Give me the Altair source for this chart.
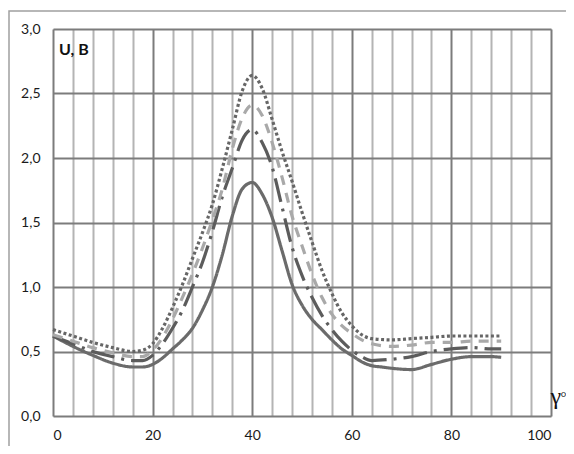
import altair as alt
import pandas as pd

# ---- data ----
x_solid = [0, 4, 8, 12, 16, 18, 20, 22, 24, 26, 28, 30, 32, 34, 36, 38, 40, 42, 44, 46, 48, 50, 52, 54, 56, 58, 60, 62, 64, 66, 68, 72, 76, 80, 84, 88, 90]
y_solid = [0.62, 0.54, 0.47, 0.41, 0.38, 0.38, 0.40, 0.45, 0.52, 0.59, 0.68, 0.82, 1.00, 1.25, 1.55, 1.76, 1.81, 1.72, 1.54, 1.28, 1.02, 0.86, 0.75, 0.67, 0.59, 0.52, 0.47, 0.42, 0.39, 0.38, 0.37, 0.36, 0.40, 0.44, 0.46, 0.46, 0.455]

x_dashdot = [0, 4, 8, 12, 16, 18, 20, 22, 24, 26, 28, 30, 32, 34, 36, 38, 40, 42, 44, 46, 48, 50, 52, 54, 56, 58, 60, 62, 64, 68, 72, 76, 80, 84, 88, 90]
y_dashdot = [0.62, 0.56, 0.50, 0.46, 0.43, 0.43, 0.47, 0.56, 0.68, 0.82, 1.00, 1.19, 1.43, 1.70, 1.92, 2.14, 2.22, 2.12, 1.93, 1.62, 1.31, 1.09, 0.92, 0.78, 0.67, 0.58, 0.51, 0.46, 0.43, 0.44, 0.46, 0.50, 0.52, 0.53, 0.52, 0.52]

x_dashed = [0, 4, 8, 12, 16, 18, 20, 22, 24, 26, 28, 30, 32, 34, 36, 38, 40, 42, 44, 46, 48, 50, 52, 54, 56, 58, 60, 62, 64, 68, 72, 76, 80, 84, 88, 90]
y_dashed = [0.63, 0.58, 0.53, 0.49, 0.46, 0.46, 0.51, 0.61, 0.75, 0.92, 1.10, 1.30, 1.52, 1.76, 2.07, 2.31, 2.41, 2.33, 2.12, 1.85, 1.55, 1.32, 1.10, 0.92, 0.79, 0.70, 0.64, 0.59, 0.56, 0.54, 0.55, 0.57, 0.57, 0.58, 0.58, 0.58]

x_dotted = [0, 4, 8, 12, 16, 18, 20, 22, 24, 26, 28, 30, 32, 34, 36, 38, 40, 42, 44, 46, 48, 50, 52, 54, 56, 58, 60, 62, 64, 68, 72, 76, 80, 84, 88, 90]
y_dotted = [0.67, 0.62, 0.57, 0.53, 0.50, 0.51, 0.56, 0.68, 0.84, 1.02, 1.22, 1.42, 1.64, 1.92, 2.22, 2.52, 2.64, 2.54, 2.30, 2.05, 1.82, 1.58, 1.35, 1.13, 0.95, 0.80, 0.70, 0.63, 0.60, 0.59, 0.60, 0.61, 0.62, 0.62, 0.62, 0.62]

series_names = ["solid", "dashdot", "dashed", "dotted"]
series_colors = ["#6b6b6b", "#5c5c5c", "#a9a9a9", "#666666"]
series_dash = [[1, 0], [24, 7, 3, 7], [10, 8], [3, 2.5]]

x_grid = list(range(0, 101, 4))
y_ticks = [0, 0.5, 1.0, 1.5, 2.0, 2.5, 3.0]

frames = []
for name, xs, ys in [("solid", x_solid, y_solid), ("dashdot", x_dashdot, y_dashdot),
                     ("dashed", x_dashed, y_dashed), ("dotted", x_dotted, y_dotted)]:
    frames.append(pd.DataFrame({"x": xs, "y": ys, "s": name}))
df = pd.concat(frames, ignore_index=True)

font = "Lato"

xscale = alt.Scale(domain=[0, 100], nice=False, zero=False)
yscale = alt.Scale(domain=[0, 3], nice=False)

lines = alt.Chart(df).mark_line(strokeWidth=3.2, interpolate="monotone", strokeCap="butt").encode(
    x=alt.X("x:Q", scale=xscale, title=None,
            axis=alt.Axis(values=x_grid, domain=False, ticks=False, labelPadding=12,
                          labelExpr="datum.value % 20 === 0 ? datum.label : ''",
                          labelFont=font, labelFontSize=14, labelColor="#1a1a1a",
                          gridColor={"condition": {"test": "datum.value % 20 === 0", "value": "#7c7c7c"}, "value": "#b4b4b4"},
                          gridWidth=2)),
    y=alt.Y("y:Q", scale=yscale, title=None,
            axis=alt.Axis(values=y_ticks, domain=False, ticks=False, labelPadding=13,
                          labelExpr="replace(format(datum.value, '.1f'), '.', ',')",
                          labelFont=font, labelFontSize=14, labelColor="#1a1a1a",
                          gridColor="#7c7c7c", gridWidth=2)),
    color=alt.Color("s:N", scale=alt.Scale(domain=series_names, range=series_colors), legend=None),
    strokeDash=alt.StrokeDash("s:N", scale=alt.Scale(domain=series_names, range=series_dash), legend=None),
    detail="s:N",
)

one = pd.DataFrame({"k": [0]})
border = alt.Chart(one).mark_rect(filled=False, stroke="#a0a0a0", strokeWidth=1.5).encode(
    x=alt.value(-44), x2=alt.value(700), y=alt.value(-18), y2=alt.value(600)
)
ulabel = alt.Chart(one).mark_text(text="U, B", font=font, fontSize=16, fontWeight="bold",
                                  align="left", baseline="alphabetic", color="#111111").encode(
    x=alt.value(6), y=alt.value(26)
)
glabel = alt.Chart(one).mark_text(text="γ", font="Liberation Serif", fontSize=24,
                                  align="left", baseline="alphabetic", color="#111111").encode(
    x=alt.value(497.5), y=alt.value(375)
)
deg = alt.Chart(one).mark_text(text="°", font="Liberation Serif", fontSize=15,
                               align="left", baseline="alphabetic", color="#111111").encode(
    x=alt.value(507.5), y=alt.value(373)
)

chart = alt.layer(border, lines, ulabel, glabel, deg).properties(
    width=498, height=387,
    autosize=alt.AutoSizeParams(type="none"),
    padding={"left": 45, "top": 21, "right": 15, "bottom": 30},
).configure_view(stroke="#7c7c7c", strokeWidth=2).configure(background="white")

chart.save("out.html", embed_options={"renderer": "svg", "actions": False})
